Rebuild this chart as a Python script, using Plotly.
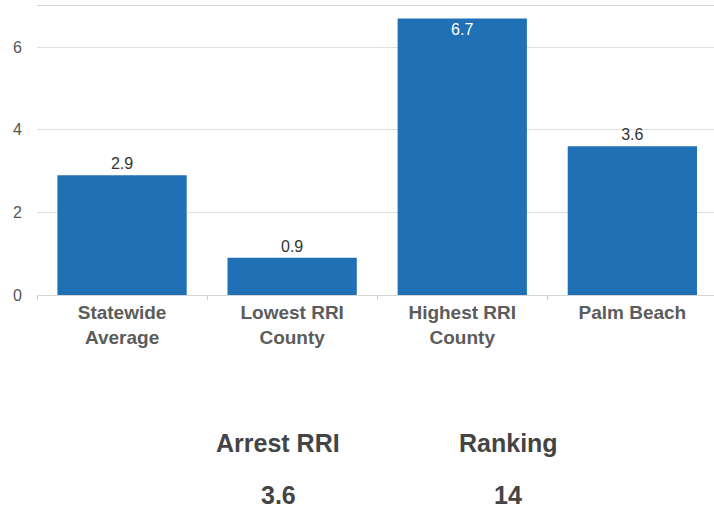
import plotly.graph_objects as go

categories = ["Statewide<br>Average", "Lowest RRI<br>County", "Highest RRI<br>County", "Palm Beach"]
values = [2.9, 0.9, 6.7, 3.6]
value_labels = ["2.9", "0.9", "6.7", "3.6"]
label_positions = ["outside", "outside", "inside", "outside"]
y_tick_vals = [0, 2, 4, 6]
y_tick_text = ["0", "2", "4", "6"]
summary_titles = ["Arrest RRI", "Ranking"]
summary_values = ["3.6", "14"]

fig = go.Figure()
fig.add_trace(go.Bar(
    x=categories, y=values, text=value_labels,
    textposition=label_positions,
    insidetextanchor="end",
    outsidetextfont=dict(color="#333333", size=16, family="Liberation Sans"),
    insidetextfont=dict(color="#ffffff", size=16, family="Liberation Sans"),
    marker=dict(color="#1f70b5", line=dict(width=0)),
    width=0.76, cliponaxis=False, hoverinfo="skip",
))

fig.update_layout(
    width=714, height=510,
    margin=dict(l=37, r=0, t=6, b=215),
    plot_bgcolor="white", paper_bgcolor="white",
    showlegend=False,
    font=dict(family="Liberation Sans", color="#555555"),
)
fig.update_xaxes(
    range=[-0.5, 3.48],
    showline=True, mirror=True, linecolor="#d6d6d6", linewidth=1,
    ticks="outside", tickson="boundaries", ticklen=4, tickcolor="#cccccc",
    tickfont=dict(size=19, color="#5c5c5c", family="Liberation Sans", weight="bold"),
    showgrid=False,
)
fig.update_yaxes(
    range=[0, 7], tickvals=y_tick_vals, ticktext=y_tick_text,
    showgrid=True, gridcolor="#e0e0e0", gridwidth=1,
    zeroline=False, showline=False,
    tickfont=dict(size=16, color="#555555", family="Liberation Sans"),
    ticklabelstandoff=14,
)

xs = [0.356, 0.696]
for title, val, xp in zip(summary_titles, summary_values, xs):
    fig.add_annotation(x=xp, y=-0.512, xref="paper", yref="paper", text=title,
                       showarrow=False, xanchor="center", yanchor="middle",
                       font=dict(size=25, color="#444444", family="Liberation Sans", weight="bold"))
    fig.add_annotation(x=xp, y=-0.692, xref="paper", yref="paper", text=val,
                       showarrow=False, xanchor="center", yanchor="middle",
                       font=dict(size=25, color="#444444", family="Liberation Sans", weight="bold"))

fig.write_html("out.html", config={"displayModeBar": False},
               post_script="document.body.style.margin='0';document.body.style.padding='0';")
